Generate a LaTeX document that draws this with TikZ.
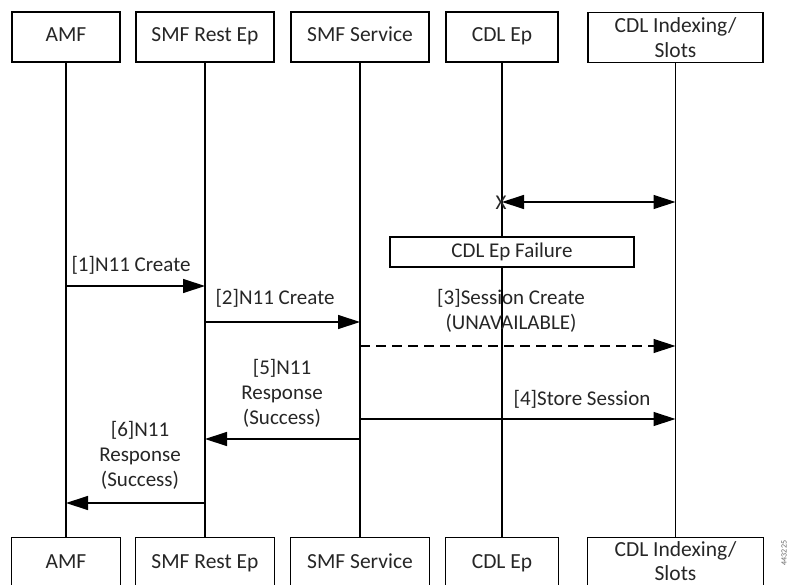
\documentclass[tikz,border=0pt]{standalone}
\usepackage{fontspec}
\setmainfont{Carlito}
\usetikzlibrary{arrows.meta}
\begin{document}
\begin{tikzpicture}[x=1pt,y=-1pt,
  actor/.style={draw, line width=1.2pt, minimum height=50pt,
    font=\fontsize{21.5}{25}\selectfont, inner sep=0pt, text=black!85,
    text height=14pt, text depth=4pt},
  actortwo/.style={draw, line width=1.2pt, minimum height=50pt, align=center,
    font=\fontsize{21.5}{24.5}\selectfont, inner sep=0pt, text=black!85},
  botactor/.style={minimum height=50pt, font=\fontsize{21.5}{25}\selectfont,
    inner sep=0pt, text=black!85, text height=14pt, text depth=4pt},
  botactortwo/.style={minimum height=46pt, align=center,
    font=\fontsize{21.5}{24}\selectfont, inner sep=0pt, text=black!85},
  openbox/.style={line width=1.2pt},
  life/.style={line width=1.2pt},
  msg/.style={line width=1.3pt, -{Triangle[length=22pt,width=14pt]}},
  dmsg/.style={line width=1.3pt, {Triangle[length=22pt,width=14pt]}-{Triangle[length=22pt,width=14pt]}},
  lbl/.style={font=\fontsize{21}{25}\selectfont, align=center, text=black!85, inner sep=0pt}
]
\clip (0,0) rectangle (794,585);
\fill[white] (0,0) rectangle (794,585);

% top boxes
\node[actor, minimum width=108pt] (amfT) at (66,37) {AMF};
\node[actor, minimum width=138pt] (restT) at (205,37) {SMF Rest Ep};
\node[actor, minimum width=138pt] (svcT) at (360,37) {SMF Service};
\node[actor, minimum width=112pt] (cdlT) at (502,37) {CDL Ep};
\node[actortwo, minimum width=175pt] (idxT) at (675.5,37.5) {CDL Indexing/\\Slots};

% bottom boxes (cut by the lower edge)
\node[botactor, minimum width=108pt] (amfB) at (66,563) {AMF};
\node[botactor, minimum width=138pt] (restB) at (205,563) {SMF Rest Ep};
\node[botactor, minimum width=138pt] (svcB) at (360,563) {SMF Service};
\node[botactor, minimum width=112pt] (cdlB) at (502,563) {CDL Ep};
\node[botactortwo, minimum width=175pt] (idxB) at (675.5,561) {CDL Indexing/\\Slots};
\foreach \b in {amfB,restB,svcB,cdlB,idxB}{
  \draw[openbox] (\b.north west) ++(0,60) -- (\b.north west) -- (\b.north east) -- ++(0,60);
}

% lifelines
\draw[life] (amfT.south) -- (amfB.north);
\draw[life] (restT.south) -- (restB.north);
\draw[life] (svcT.south) -- (svcB.north);
\draw[life] (cdlT.south) -- (cdlB.north);
\draw[life] (idxT.south) -- (idxB.north);

% CDL Ep link lost
\draw[dmsg] (cdlT |- 0,202) -- (idxT |- 0,202);
\node[font=\fontsize{21}{21}\selectfont, inner sep=0pt, text=black!85] (xmark) at (501,203) {X};

% failure box
\node[draw, fill=white, line width=1.2pt, minimum width=244pt, minimum height=30pt,
  inner sep=0pt, font=\fontsize{21}{25}\selectfont, text=black!85] (fail) at (512,252) {CDL Ep Failure};

% messages
\draw[msg] (amfT |- 0,286) -- (restT |- 0,286);
\node[lbl] (l1) at (131,265) {[1]N11 Create};

\draw[msg] (restT |- 0,322) -- (svcT |- 0,322);
\node[lbl] (l2) at (275,298) {[2]N11 Create};

\draw[msg, dash pattern=on 10pt off 6pt] (svcT |- 0,346) -- (idxT |- 0,346);
\node[lbl] (l3) at (511,311) {[3]Session Create\\(UNAVAILABLE)};

\draw[msg] (svcT |- 0,419) -- (idxT |- 0,419);
\node[lbl] (l4) at (582,399) {[4]Store Session};

\draw[msg] (svcT |- 0,439) -- (restT |- 0,439);
\node[lbl] (l5) at (282,393) {[5]N11\\Response\\(Success)};

\draw[msg] (restT |- 0,503) -- (amfT |- 0,503);
\node[lbl] (l6) at (140,455) {[6]N11\\Response\\(Success)};

% figure number
\node[rotate=90, font=\fontsize{8}{9}\selectfont, text=black!60, inner sep=0pt] (fig) at (784,553) {443225};
\end{tikzpicture}
\end{document}
